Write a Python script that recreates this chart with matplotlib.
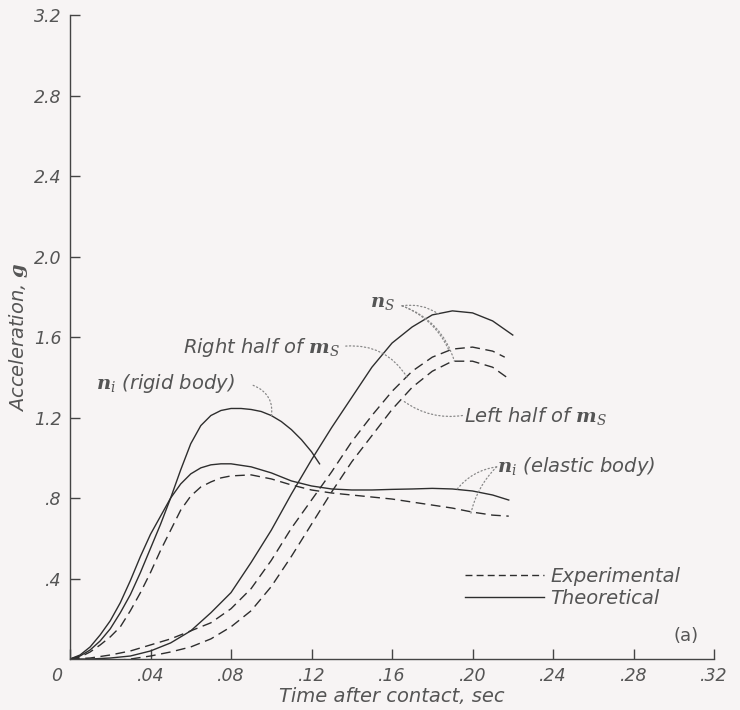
import matplotlib
matplotlib.use('Agg')
import matplotlib.pyplot as plt
import matplotlib.transforms as mtransforms
from matplotlib.lines import Line2D

# n_i, rigid body (theoretical)
rigid_t = [0, .005, .01, .015, .02, .025, .03, .035, .04, .045, .05, .055, .06, .065,
           .07, .075, .08, .085, .09, .095, .10, .105, .11, .115, .12, .124]
rigid_y = [0, .015, .045, .09, .15, .23, .32, .43, .55, .67, .80, .94, 1.07, 1.16,
           1.21, 1.235, 1.245, 1.245, 1.24, 1.23, 1.21, 1.18, 1.14, 1.09, 1.03, .97]

# n_i, elastic body
elastic_t = [0, .005, .01, .015, .02, .025, .03, .035, .04, .045, .05, .055, .06, .065,
             .07, .075, .08, .09, .10, .11, .12, .13, .14, .15, .16, .17, .18, .19,
             .20, .21, .218]
elastic_theo = [0, .02, .06, .12, .19, .28, .39, .51, .62, .71, .80, .87, .92, .95,
                .965, .97, .97, .955, .925, .885, .86, .845, .84, .84, .843, .845, .848, .845,
                .835, .815, .79]
elastic_exp = [0, .01, .035, .07, .11, .16, .24, .33, .43, .54, .64, .74, .81, .855,
               .88, .90, .91, .915, .895, .865, .84, .825, .815, .805, .795, .78, .765, .75,
               .73, .715, .71]

# n_s (theoretical)
ns_t = [0, .01, .02, .03, .04, .05, .06, .07, .08, .09, .10, .11, .12, .13, .14, .15,
        .16, .17, .18, .19, .20, .21, .22]
ns_y = [0, 0, .005, .015, .04, .08, .14, .23, .33, .48, .64, .82, .99, 1.15, 1.30, 1.45,
        1.57, 1.65, 1.71, 1.73, 1.72, 1.68, 1.61]

# m_s halves (experimental)
right_t = [0, .01, .02, .03, .04, .05, .06, .07, .08, .09, .10, .11, .12, .13, .14, .15,
           .16, .17, .18, .19, .20, .21, .216]
right_y = [0, .005, .02, .04, .07, .10, .14, .18, .25, .35, .49, .65, .79, .93, 1.08, 1.21,
           1.33, 1.43, 1.50, 1.54, 1.55, 1.53, 1.50]
left_t = [0, .01, .02, .03, .04, .05, .06, .07, .08, .09, .10, .11, .12, .13, .14, .15,
          .16, .17, .18, .19, .20, .21, .217]
left_y = [0, -.01, -.01, 0, .015, .035, .06, .10, .16, .24, .36, .51, .67, .83, .98, 1.11,
          1.24, 1.35, 1.43, 1.48, 1.48, 1.45, 1.40]

xticks = [0, .04, .08, .12, .16, .20, .24, .28, .32]
xticklabels = ['0', '.04', '.08', '.12', '.16', '.20', '.24', '.28', '.32']
yticks = [.4, .8, 1.2, 1.6, 2.0, 2.4, 2.8, 3.2]
yticklabels = ['.4', '.8', '1.2', '1.6', '2.0', '2.4', '2.8', '3.2']

bg = '#f7f4f4'
ink = '#2e2e2e'
txt = '#555555'
lead = '#888888'
plt.rcParams['font.family'] = 'DejaVu Sans'
plt.rcParams['font.style'] = 'italic'

fig = plt.figure(figsize=(7.4, 7.1), dpi=100, facecolor=bg)
ax = fig.add_axes([0.0946, 0.0718, 0.8703, 0.907])
ax.set_facecolor(bg)

dash = (0, (7, 4))
ax.plot(rigid_t, rigid_y, color=ink, lw=1.0)
ax.plot(elastic_t, elastic_theo, color=ink, lw=1.0)
ax.plot(elastic_t, elastic_exp, color=ink, lw=1.0, linestyle=dash)
ax.plot(ns_t, ns_y, color=ink, lw=1.0)
ax.plot(right_t, right_y, color=ink, lw=1.0, linestyle=dash)
ax.plot(left_t, left_y, color=ink, lw=1.0, linestyle=dash)

ax.set_xlim(0, .32)
ax.set_ylim(0, 3.2)
for s in ['top', 'right']:
    ax.spines[s].set_visible(False)
for s in ['left', 'bottom']:
    ax.spines[s].set_color('#444444')
    ax.spines[s].set_linewidth(1.0)
ax.tick_params(direction='in', length=7, width=1.0, color='#444444',
               labelsize=12.5, labelcolor=txt, pad=6)
ax.set_xticks(xticks)
ax.set_xticklabels(xticklabels)
ax.set_yticks(yticks)
ax.set_yticklabels(yticklabels)
# the origin "0" sits left of the corner
lab0 = ax.get_xticklabels()[0]
lab0.set_transform(lab0.get_transform() + mtransforms.ScaledTranslation(-0.13, 0, fig.dpi_scale_trans))

fs = 14
ax.set_xlabel('Time after contact, sec', fontsize=fs, color=txt, labelpad=1)
ax.set_ylabel(r'Acceleration, $\mathbf{g}$', fontsize=fs, color=txt, labelpad=3)
ax.yaxis.label.set_math_fontfamily('dejavuserif')

# labels and dotted leaders
def leader(p0, p1, rad):
    ax.annotate('', xy=p1, xytext=p0,
                arrowprops=dict(arrowstyle='-', color=lead, lw=0.9, linestyle=(0, (1, 2)),
                                connectionstyle='arc3,rad=%s' % rad, shrinkA=0, shrinkB=0))

tkw = dict(fontsize=fs, color=txt, math_fontfamily='dejavuserif')
ax.text(.149, 1.77, r'$\mathbf{n}_S$', ha='left', va='center', **tkw)
leader((.165, 1.755), (.183, 1.715), -0.2)
leader((.165, 1.755), (.188, 1.54), -0.2)
leader((.165, 1.755), (.191, 1.48), -0.25)

ax.text(.134, 1.55, r'Right half of $\mathbf{m}_S$', ha='right', va='center', **tkw)
leader((.137, 1.555), (.1675, 1.40), -0.3)

ax.text(.013, 1.37, r'$\mathbf{n}_\mathrm{i}$ (rigid body)', ha='left', va='center', **tkw)
leader((.091, 1.36), (.100, 1.20), -0.4)

ax.text(.196, 1.21, r'Left half of $\mathbf{m}_S$', ha='left', va='center', **tkw)
leader((.195, 1.21), (.166, 1.28), -0.2)

ax.text(.212, .955, r'$\mathbf{n}_\mathrm{i}$ (elastic body)', ha='left', va='center', **tkw)
leader((.212, .955), (.192, .84), 0.2)
leader((.212, .955), (.199, .715), 0.15)

ax.text(.306, .115, '(a)', ha='center', va='center', fontsize=13, color=txt, style='normal')

handles = [Line2D([], [], color=ink, lw=1.0, linestyle=(0, (5, 3))),
           Line2D([], [], color=ink, lw=1.0)]
fig.legend(handles, ['Experimental', 'Theoretical'], loc='upper left',
           bbox_to_anchor=(0.628, 0.201), frameon=False, fontsize=fs,
           handlelength=4.1, handletextpad=0.3, labelspacing=0.15, labelcolor=txt,
           borderpad=0, borderaxespad=0)

fig.savefig('out.png', dpi=100, facecolor=bg)
